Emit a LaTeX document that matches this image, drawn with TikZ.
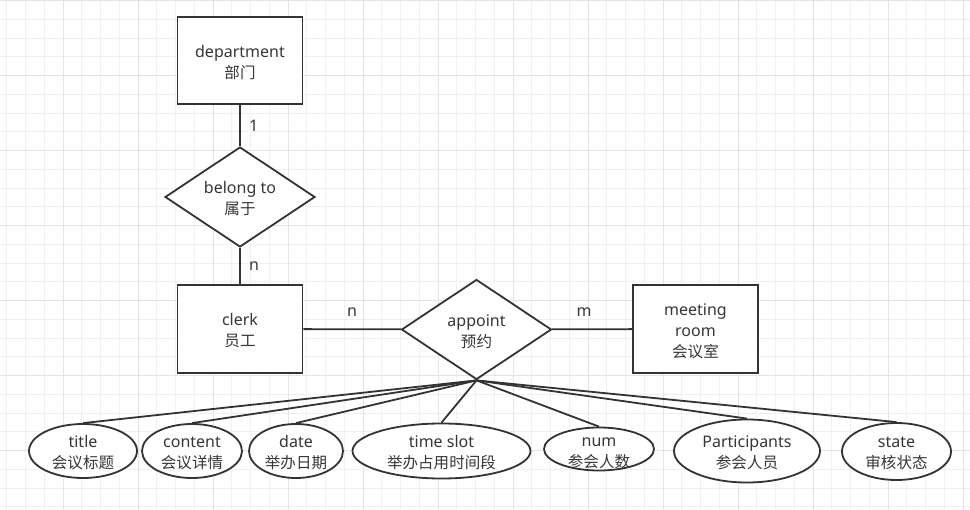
\documentclass[tikz,border=0pt]{standalone}
\usepackage{fontspec}
\setmainfont{Noto Sans}
\newfontfamily\cjk[Scale=0.97]{Noto Sans CJK SC}
\usetikzlibrary{shapes.geometric}
\definecolor{strokeGray}{HTML}{333333}
\definecolor{textGray}{HTML}{363636}
\definecolor{gridMinor}{HTML}{F0F0F0}
\definecolor{gridMajor}{HTML}{E4E4E4}
\newcommand\colorStroke{strokeGray}
\newcommand\colorText{textGray}
\newcommand\labelFont{\fontsize{16pt}{21pt}\selectfont}
\newcommand\topStrut{\rule{0pt}{16pt}}
\newcommand\gridMinorStep{18.75}
\newcommand\gridMajorStep{75}
\newcommand\drawGrid{
	\foreach \i in {0,...,51}{
		\draw[color=gridMinor, line width=1pt] ({6.75+\i*\gridMinorStep},0) to ++(0,510);
	}
	\foreach \i in {0,...,27}{
		\draw[color=gridMinor, line width=1pt] (0,{0.7+\i*\gridMinorStep}) to ++(970,0);
	}
	\foreach \i in {0,...,12}{
		\draw[color=gridMajor, line width=1pt] ({63+\i*\gridMajorStep},0) to ++(0,510);
	}
	\foreach \i in {0,...,6}{
		\draw[color=gridMajor, line width=1pt] (0,{0.7+\i*\gridMajorStep}) to ++(970,0);
	}
}
\newcommand\attrNode[7][]{
	\node[attr, minimum width=#5pt, minimum height=#6pt, label={[attrtext, #1]center:#3\\{\cjk #4}}] (#2) at (#7) {};
}
\tikzset{
	entity/.style={draw=\colorStroke, line width=1.8pt, fill=white, minimum width=125pt, minimum height=87pt, align=center, text=\colorText, font=\labelFont},
	relation/.style={diamond, aspect=1.5, inner sep=0pt, draw=\colorStroke, line width=1.8pt, fill=white, minimum width=150pt, minimum height=100pt, align=center, text=\colorText, font=\labelFont},
	attr/.style={ellipse, inner sep=0pt, draw=\colorStroke, line width=1.8pt, fill=white},
	attrtext/.style={align=center, text=\colorText, font=\labelFont, yshift=-2pt},
	link/.style={draw=\colorStroke, line width=1.8pt},
	card/.style={text=\colorText, font=\labelFont}
}
\begin{document}
\begin{tikzpicture}[x=1pt, y=-1pt]
	\useasboundingbox (0,0) rectangle (970,510);
	\drawGrid
	
	\node[entity] (dept) at (240,60.5) {\topStrut department\\{\cjk 部门}};
	\node[relation] (belong) at (240,197) {\topStrut belong to\\{\cjk 属于}};
	\node[entity, minimum height=88pt] (clerk) at (240,329) {\topStrut clerk\\{\cjk 员工}};
	\node[relation] (appoint) at (476.5,329.5) {\topStrut appoint\\{\cjk 预约}};
	\node[entity, minimum height=88pt] (room) at (695.5,329) {\topStrut meeting\\room\\{\cjk 会议室}};
	
	\attrNode{title}{title}{会议标题}{108}{54}{83,451}
	\attrNode{content}{content}{会议详情}{100}{54}{192,451}
	\attrNode{date}{date}{举办日期}{94}{54}{296,451}
	\attrNode{slot}{time slot}{举办占用时间段}{178}{55}{441.5,451}
	\attrNode[yshift=-2pt]{num}{num}{参会人数}{110}{43}{599,449}
	\attrNode{participants}{Participants}{参会人员}{146}{63}{747,451}
	\attrNode{state}{state}{审核状态}{109}{57}{896.5,451.5}
	
	\draw[link] (dept) to node[card, right=5pt] {1} (belong);
	\draw[link] (belong) to node[card, right=5pt] {n} (clerk);
	\draw[link] (clerk) to node[card, above=8.5pt] {n} (appoint);
	\draw[link] (appoint) to node[card, above=8.5pt, pos=0.4] {m} (room);
	\foreach \a in {title,content,date,slot,num,participants,state}{
		\draw[link] (appoint.south) to (\a.north);
	}
\end{tikzpicture}
\end{document}
